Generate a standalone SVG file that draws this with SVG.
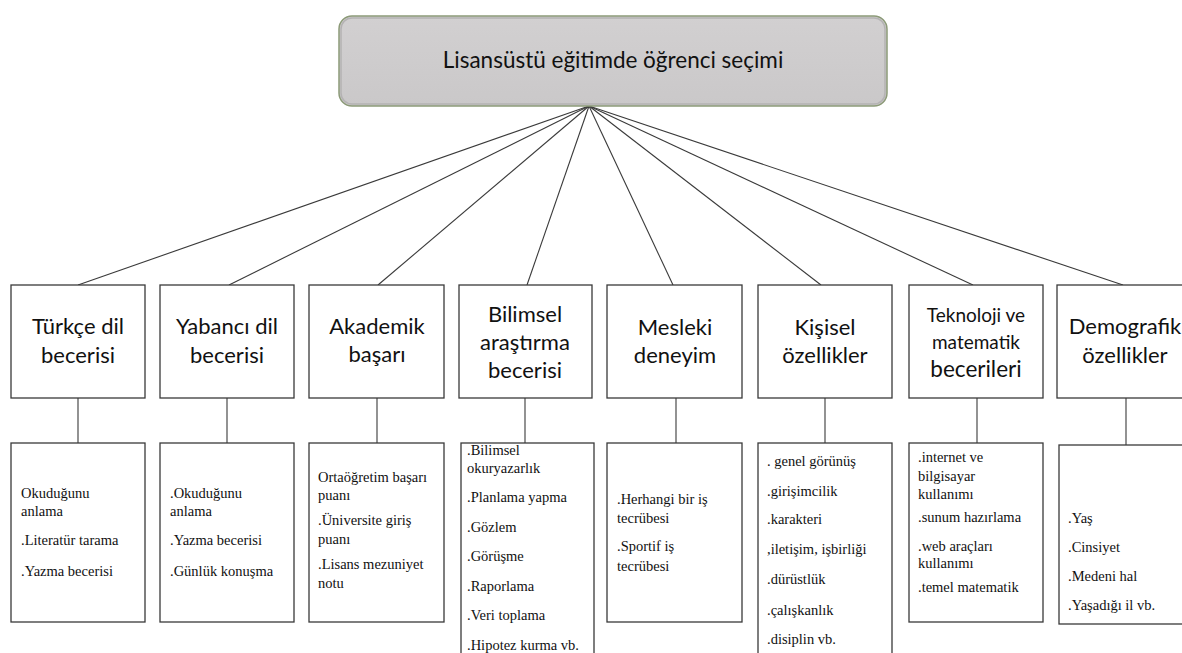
<svg xmlns="http://www.w3.org/2000/svg" width="1182" height="653" viewBox="0 0 1182 653">
<defs>
<style>
.box{fill:#fff;stroke:#3a3a3a;stroke-width:1.3}
.h{font-family:Lato,"Open Sans","Liberation Sans",sans-serif;font-size:22px;fill:#111;text-anchor:middle}
.t{font-family:"Liberation Serif","DejaVu Serif",serif;font-size:14.5px;fill:#111}
.c{stroke:#3a3a3a;stroke-width:1.1;fill:none}
</style>
<linearGradient id="g" x1="0" y1="0" x2="0" y2="1">
<stop offset="0" stop-color="#d2d0d1"/>
<stop offset="1" stop-color="#cac8c9"/>
</linearGradient>
</defs>
<rect width="1182" height="653" fill="#fff"/>
<g id="connectors">
<line class="c" x1="589" y1="106" x2="78" y2="285"/>
<line class="c" x1="589" y1="106" x2="229" y2="285"/>
<line class="c" x1="589" y1="106" x2="378" y2="285"/>
<line class="c" x1="589" y1="106" x2="527" y2="285"/>
<line class="c" x1="589" y1="106" x2="673" y2="285"/>
<line class="c" x1="589" y1="106" x2="821" y2="285"/>
<line class="c" x1="589" y1="106" x2="973" y2="285"/>
<line class="c" x1="589" y1="106" x2="1123" y2="285"/>
<line class="c" x1="78" y1="398" x2="78" y2="443"/>
<line class="c" x1="227" y1="398" x2="227" y2="443"/>
<line class="c" x1="377" y1="398" x2="377" y2="443"/>
<line class="c" x1="525" y1="398" x2="525" y2="447"/>
<line class="c" x1="676" y1="398" x2="676" y2="443"/>
<line class="c" x1="825" y1="398" x2="825" y2="443"/>
<line class="c" x1="977" y1="398" x2="977" y2="443"/>
<line class="c" x1="1126" y1="398" x2="1126" y2="445"/>
</g>
<g id="root">
<rect x="339" y="16" width="548" height="90" rx="13" fill="url(#g)" stroke="#8c9a78" stroke-width="1.5"/>
<rect x="341" y="18" width="544" height="86" rx="11" fill="none" stroke="#b4b2b3" stroke-width="1.5"/>
<text class="h" x="613" y="68" style="font-size:22.5px">Lisansüstü eğitimde öğrenci seçimi</text>
</g>
<g id="n1">
<rect class="box" x="11" y="285" width="134" height="113"/>
<text class="h" x="78" y="334">Türkçe dil</text>
<text class="h" x="78" y="363">becerisi</text>
</g>
<g id="n2">
<rect class="box" x="160" y="285" width="134" height="113"/>
<text class="h" x="227" y="334">Yabancı dil</text>
<text class="h" x="227" y="363">becerisi</text>
</g>
<g id="n3">
<rect class="box" x="309" y="285" width="135" height="113"/>
<text class="h" x="377" y="334">Akademik</text>
<text class="h" x="377" y="362">başarı</text>
</g>
<g id="n4">
<rect class="box" x="459" y="285" width="133" height="113"/>
<text class="h" x="525" y="322">Bilimsel</text>
<text class="h" x="525" y="350">araştırma</text>
<text class="h" x="525" y="378">becerisi</text>
</g>
<g id="n5">
<rect class="box" x="607" y="285" width="135" height="113"/>
<text class="h" x="675" y="335">Mesleki</text>
<text class="h" x="675" y="363">deneyim</text>
</g>
<g id="n6">
<rect class="box" x="758" y="285" width="134" height="113"/>
<text class="h" x="825" y="335">Kişisel</text>
<text class="h" x="825" y="363">özellikler</text>
</g>
<g id="n7">
<rect class="box" x="909" y="285" width="134" height="113"/>
<text class="h" x="976" y="322" style="font-size:19px">Teknoloji ve</text>
<text class="h" x="976" y="349" style="font-size:19px">matematik</text>
<text class="h" x="976" y="377" style="font-size:22.5px">becerileri</text>
</g>
<g id="n8">
<rect class="box" x="1057" y="285" width="136" height="113"/>
<text class="h" x="1125" y="334">Demografik</text>
<text class="h" x="1125" y="363">özellikler</text>
</g>
<g font-family="'Liberation Serif', 'DejaVu Serif', serif" font-size="14.5" fill="#111">
<g id="d1">
<rect class="box" x="11" y="443" width="134" height="179"/>
<text class="t" x="21" y="498">Okuduğunu</text>
<text class="t" x="21" y="516">anlama</text>
<text class="t" x="21" y="545">.Literatür tarama</text>
<text class="t" x="21" y="576">.Yazma becerisi</text>
</g>
<g id="d2">
<rect class="box" x="160" y="443" width="134" height="179"/>
<text class="t" x="170" y="498">.Okuduğunu</text>
<text class="t" x="170" y="516">anlama</text>
<text class="t" x="170" y="545">.Yazma becerisi</text>
<text class="t" x="170" y="576">.Günlük  konuşma</text>
</g>
<g id="d3">
<rect class="box" x="309" y="443" width="135" height="179"/>
<text class="t" x="318" y="482">Ortaöğretim başarı</text>
<text class="t" x="318" y="500">puanı</text>
<text class="t" x="318" y="525">.Üniversite giriş</text>
<text class="t" x="318" y="544">puanı</text>
<text class="t" x="318" y="569">.Lisans mezuniyet</text>
<text class="t" x="318" y="588">notu</text>
</g>
<g id="d4">
<rect class="box" x="461" y="443" width="133" height="220"/>
<text class="t" x="467" y="455">.Bilimsel</text>
<text class="t" x="467" y="473">okuryazarlık</text>
<text class="t" x="467" y="502">.Planlama yapma</text>
<text class="t" x="467" y="532">.Gözlem</text>
<text class="t" x="467" y="561">.Görüşme</text>
<text class="t" x="467" y="591">.Raporlama</text>
<text class="t" x="467" y="620">.Veri toplama</text>
<text class="t" x="467" y="650">.Hipotez kurma vb.</text>
</g>
<g id="d5">
<rect class="box" x="607" y="443" width="135" height="179"/>
<text class="t" x="617" y="504">.Herhangi bir iş</text>
<text class="t" x="617" y="523">tecrübesi</text>
<text class="t" x="617" y="551">.Sportif iş</text>
<text class="t" x="617" y="571">tecrübesi</text>
</g>
<g id="d6">
<rect class="box" x="758" y="443" width="134" height="220"/>
<text class="t" x="767" y="466">. genel görünüş</text>
<text class="t" x="767" y="496">.girişimcilik</text>
<text class="t" x="767" y="524">.karakteri</text>
<text class="t" x="767" y="554">,iletişim,  işbirliği</text>
<text class="t" x="767" y="584">.dürüstlük</text>
<text class="t" x="767" y="615">.çalışkanlık</text>
<text class="t" x="767" y="644">.disiplin  vb.</text>
</g>
<g id="d7">
<rect class="box" x="909" y="443" width="134" height="179"/>
<text class="t" x="918" y="462">.internet ve</text>
<text class="t" x="918" y="481">bilgisayar</text>
<text class="t" x="918" y="499">kullanımı</text>
<text class="t" x="918" y="522">.sunum hazırlama</text>
<text class="t" x="918" y="551">.web araçları</text>
<text class="t" x="918" y="568">kullanımı</text>
<text class="t" x="918" y="592">.temel matematik</text>
</g>
<g id="d8">
<rect class="box" x="1059" y="445" width="134" height="179"/>
<text class="t" x="1068" y="523">.Yaş</text>
<text class="t" x="1068" y="552">.Cinsiyet</text>
<text class="t" x="1068" y="581">.Medeni hal</text>
<text class="t" x="1068" y="610">.Yaşadığı il vb.</text>
</g>
</g>
</svg>
